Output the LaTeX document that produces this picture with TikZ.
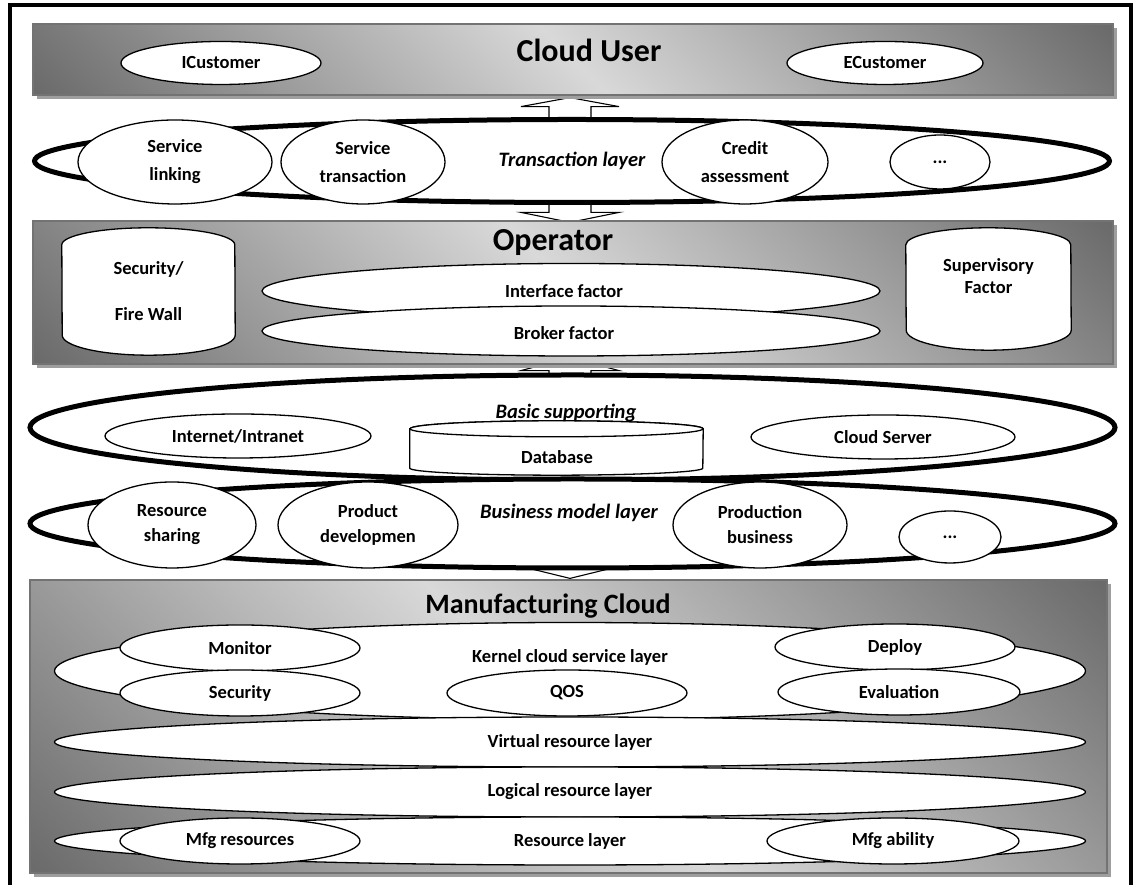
\documentclass[tikz,border=0pt]{standalone}
\usepackage{fontspec}
\setmainfont{Carlito}
\usetikzlibrary{shapes.geometric,shadows,calc,backgrounds}

\definecolor{pdark}{gray}{0.42}
\definecolor{plight}{gray}{0.85}
% diagonal dark-light-dark fill used for the three panels
\pgfdeclarehorizontalshading{panelshade}{100bp}{color(0bp)=(pdark); color(15bp)=(pdark); color(50bp)=(plight); color(85bp)=(pdark); color(100bp)=(pdark)}

\newcommand{\lblfont}[1]{\fontsize{18.5}{#1}\selectfont\bfseries}

% hollow block arrow: shaft from #1 to tip #2 (same x), head depth #3 (signed)
\newcommand{\blockarrow}[3]{%
  \draw[blockarrow] ($(#1)+(-21,0)$) -- ($(#2)+(-21,#3)$) -- ($(#2)+(-49,#3)$) -- (#2)
    -- ($(#2)+(49,#3)$) -- ($(#2)+(21,#3)$) -- ($(#1)+(21,0)$) -- cycle;}

\begin{document}
\begin{tikzpicture}[x=1pt,y=1pt,
  panel/.style={rectangle, draw=black!55, line width=1.2pt, shade, shading=panelshade, shading angle=45,
    inner sep=0pt, drop shadow={shadow xshift=4pt, shadow yshift=-4pt, fill=black!38, opacity=1}},
  paneltitle/.style={inner sep=0pt, font=\fontsize{32}{36}\selectfont\bfseries},
  thicklayer/.style={ellipse, draw=black, line width=5pt, fill=white, inner sep=0pt,
    font=\fontsize{20.5}{24}\selectfont\bfseries\itshape},
  oval/.style={ellipse, draw=black, line width=1.3pt, fill=white, inner sep=0pt, align=center, font={\lblfont{22}}},
  txt/.style={inner sep=0pt, align=center, font={\lblfont{22}}},
  layername/.style={inner sep=0pt, font=\fontsize{20.5}{24}\selectfont\bfseries\itshape},
  canbox/.style={rectangle, inner sep=0pt},
  canshape/.style={draw=black, line width=1.3pt, fill=white},
  blockarrow/.style={draw=black, line width=1.1pt, fill=white, line join=miter}
]
\useasboundingbox (0,0) rectangle (1136,885);

% outer frame (open at the bottom)
\draw[line width=4.5pt] (10,-10) -- (10,880) -- (1131,880) -- (1131,-10);

% ---------- Cloud User ----------
\node[panel, minimum width=1080pt, minimum height=71pt] (user) at (573,825.5) {};
\node[paneltitle] (usertitle) at (589,835) {Cloud User};
\node[oval, minimum width=200pt, minimum height=43pt] (icust) at (221,822) {ICustomer};
\node[oval, minimum width=196pt, minimum height=43pt] (ecust) at (885,822) {ECustomer};

% ---------- Transaction layer ----------
\node[thicklayer, minimum width=1075pt, minimum height=83pt] (trans) at (572,724) {Transaction layer};
\node[oval, font={\lblfont{28}}, minimum width=194pt, minimum height=84pt] (link) at (175,723) {Service\\linking};
\node[oval, font={\lblfont{28}}, minimum width=164pt, minimum height=84pt] (stran) at (363,723) {Service\\transaction};
\node[oval, font={\lblfont{28}}, minimum width=166pt, minimum height=84pt] (credit) at (745,723) {Credit\\assessment};
\node[oval, minimum width=100pt, minimum height=54pt] (tdots) at (940,723) {...};

% ---------- Operator ----------
\node[panel, minimum width=1080pt, minimum height=143pt] (oper) at (573,592.5) {};
\node[paneltitle] (opertitle) at (553,642) {Operator};
\node[canbox, minimum width=173pt, minimum height=127pt] (fw) at (148.5,593.5) {};
\draw[canshape] ($(fw.north west)+(0,-17)$) arc[start angle=180,end angle=0,x radius=86.5,y radius=17]
  -- ($(fw.south east)+(0,20)$) arc[start angle=0,end angle=-180,x radius=86.5,y radius=20] -- cycle;
\node[txt, font={\lblfont{46}}] (fwtext) at (fw) {Security/\\Fire Wall};
\node[canbox, minimum width=165pt, minimum height=122pt] (sup) at (988.5,596) {};
\draw[canshape] ($(sup.north west)+(0,-17)$) arc[start angle=180,end angle=0,x radius=82.5,y radius=17]
  -- ($(sup.south east)+(0,20)$) arc[start angle=0,end angle=-180,x radius=82.5,y radius=20] -- cycle;
\node[txt] (suptext) at ($(sup)+(0,13)$) {Supervisory\\Factor};
\node[oval, minimum width=618pt, minimum height=55pt] (iface) at (571,594) {};
\node[txt] (ifacetext) at (564,594) {Interface factor};
\node[oval, minimum width=618pt, minimum height=50pt] (broker) at (571,554) {};
\node[txt] (brokertext) at (564,552) {Broker factor};

% ---------- Basic supporting ----------
\node[thicklayer, minimum width=1085pt, minimum height=105pt] (basic) at (572.5,457.5) {};
\node[oval, minimum width=266pt, minimum height=44pt] (inet) at (238,449) {Internet/Intranet};
\node[oval, minimum width=264pt, minimum height=44pt] (cserver) at (883,448) {Cloud Server};
\node[canbox, minimum width=293pt, minimum height=54pt] (db) at (556.5,437) {};
\draw[canshape] ($(db.north west)+(0,-8)$) -- ($(db.south west)+(0,7)$)
  arc[start angle=180,end angle=360,x radius=146.5,y radius=7]
  -- ($(db.north east)+(0,-8)$) arc[start angle=0,end angle=180,x radius=146.5,y radius=8] -- cycle;
\draw[canshape] ($(db.north)+(0,-8)$) ellipse[x radius=146.5, y radius=8];
\node[txt] (dbtext) at (557,428) {Database};
\node[layername] (basictext) at (566,472) {Basic supporting};

% ---------- Business model layer ----------
\node[thicklayer, minimum width=1085pt, minimum height=89pt] (business) at (572.5,361.5) {};
\node[layername] (bustext) at (569,372) {Business model layer};
\node[oval, font={\lblfont{25}}, minimum width=168pt, minimum height=86pt] (rshare) at (172,360) {Resource\\sharing};
\node[oval, font={\lblfont{25}}, minimum width=180pt, minimum height=86pt] (pdev) at (368,360) {Product\\developmen};
\node[oval, font={\lblfont{25}}, minimum width=174pt, minimum height=86pt] (pbus) at (760,360) {Production\\business};
\node[oval, minimum width=102pt, minimum height=52pt] (bdots) at (950,348) {...};

% ---------- Manufacturing Cloud ----------
\node[panel, minimum width=1077pt, minimum height=293pt] (mfg) at (568.5,158.5) {};
\node[paneltitle, font=\fontsize{28}{32}\selectfont\bfseries] (mfgtitle) at (548,279) {Manufacturing Cloud};
\node[oval, minimum width=1031pt, minimum height=97pt] (kernel) at (570,214) {};
\node[oval, minimum width=240pt, minimum height=46pt] (monitor) at (240,237) {Monitor};
\node[oval, minimum width=240pt, minimum height=46pt] (security) at (240,192) {Security};
\node[oval, minimum width=240pt, minimum height=46pt] (qos) at (567,192) {QOS};
\node[oval, minimum width=240pt, minimum height=46pt] (deploy) at (895,238) {Deploy};
\node[oval, minimum width=242pt, minimum height=46pt] (evaluation) at (899,193) {Evaluation};
\node[txt] (kerneltext) at (570,228) {Kernel cloud service layer};
\node[oval, minimum width=1031pt, minimum height=50pt] (virtual) at (570,143) {Virtual resource layer};
\node[oval, minimum width=1031pt, minimum height=50pt] (logical) at (570,93) {Logical resource layer};
\node[oval, minimum width=1031pt, minimum height=48pt] (resource) at (570,44) {Resource layer};
\node[oval, minimum width=240pt, minimum height=46pt] (mfgres) at (240,44) {Mfg resources};
\node[oval, minimum width=252pt, minimum height=46pt] (mfgab) at (893,44) {Mfg ability};

% ---------- block arrows between the layers (behind everything) ----------
\coordinate (a1s) at ($(trans.north)+(-2,-8)$);
\coordinate (a1t) at ($(user.south)+(-3,-2)$);
\coordinate (a2s) at ($(trans.south)+(-2,6)$);
\coordinate (a2t) at ($(oper.north)+(-3,-2)$);
\coordinate (a3s) at ($(basic.north)+(-2.5,-6)$);
\coordinate (a3t) at ($(oper.south)+(-3,7)$);
\coordinate (a4s) at ($(business.south)+(-2.5,9)$);
\coordinate (a4t) at ($(mfg.north)+(1.5,1)$);
\begin{pgfonlayer}{background}
  \blockarrow{a1s}{a1t}{-9}
  \blockarrow{a2s}{a2t}{10}
  \blockarrow{a3s}{a3t}{-13}
  \blockarrow{a4s}{a4t}{12}
\end{pgfonlayer}
\end{tikzpicture}
\end{document}
